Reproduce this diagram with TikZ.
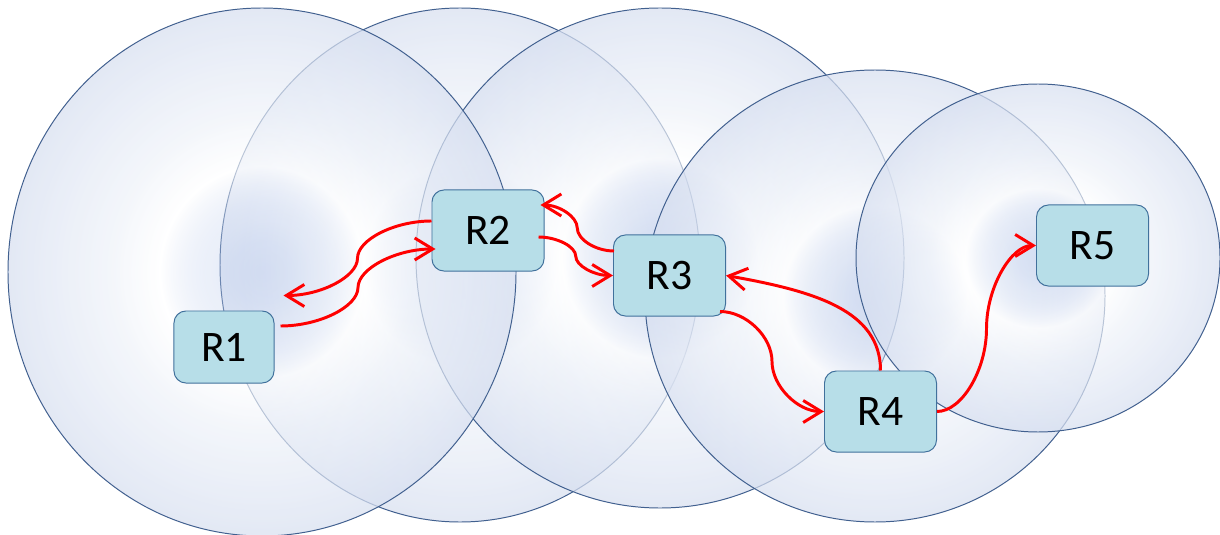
\documentclass[tikz,border=0pt]{standalone}
\usepackage{fontspec}
\usepackage{xcolor}
\usepackage{tikz}
\usetikzlibrary{arrows.meta,fadings,calc}
\newfontfamily\boxfont{Carlito}
\definecolor{cellcore}{HTML}{9CB3E4}
\definecolor{cellinner}{HTML}{B0C3EA}
\definecolor{cellring}{HTML}{FFFFFF}
\definecolor{cellouter}{HTML}{EEF2F9}
\definecolor{celledge}{HTML}{D8E0F1}
\definecolor{cellline}{HTML}{41608F}
\definecolor{boxfill}{HTML}{B7DEE8}
\definecolor{boxline}{HTML}{41719C}
\definecolor{flowred}{HTML}{FF0000}
\pgfdeclareradialshading{cellshade}{\pgfpointorigin}{%
  color(0bp)=(cellcore); color(3bp)=(cellinner); color(10bp)=(cellring);
  color(15bp)=(cellouter); color(25bp)=(celledge); color(50bp)=(celledge)}
\pgfdeclareradialshading{cellmask}{\pgfpointorigin}{%
  rgb(0bp)=(.3,.3,.3); rgb(5bp)=(.35,.35,.35); rgb(10bp)=(.65,.65,.65);
  rgb(25bp)=(.72,.72,.72); rgb(50bp)=(.72,.72,.72)}
\pgfdeclarefading{cellfade}{\pgfuseshading{cellmask}}
\tikzset{
  cell/.style={shading=cellshade, path fading=cellfade},
  rim/.style={draw=cellline, line width=0.7pt},
  router/.style={draw=boxline, fill=boxfill, line width=0.7pt, rounded corners=0.3cm,
    minimum width=2.8cm, minimum height=2.025cm, inner sep=0pt,
    font=\boxfont\fontsize{31}{37}\selectfont},
  flow/.style={draw=flowred, line width=2.1pt, -{Straight Barb[length=4.5mm, width=5.5mm]}},
  % curved connector: horizontal ends, vertical at half way
  sbend/.style={to path={let \p1=(\tikztostart), \p2=(\tikztotarget) in
    .. controls ({0.75*\x1+0.25*\x2},\y1) and ({0.5*\x1+0.5*\x2},{0.75*\y1+0.25*\y2})
    .. ({0.5*\x1+0.5*\x2},{0.5*\y1+0.5*\y2})
    .. controls ({0.5*\x1+0.5*\x2},{0.25*\y1+0.75*\y2}) and ({0.25*\x1+0.75*\x2},\y2)
    .. (\tikztotarget)}},
}

\begin{document}
\begin{tikzpicture}[x=0.025cm, y=0.025cm]
  \useasboundingbox (0,0) rectangle (1220,534);
  \fill[white] (0,0) rectangle (1220,534);

  % radio ranges
  \shade[cell] (460,269) ellipse [x radius=240, y radius=257];
  \draw[rim] (460,269) ellipse [x radius=240, y radius=257];
  \shade[cell] (660,276) ellipse [x radius=244, y radius=250];
  \draw[rim] (660,276) ellipse [x radius=244, y radius=250];
  \shade[cell] (262,262) ellipse [x radius=254, y radius=264];
  \draw[rim] (262,262) ellipse [x radius=254, y radius=264];
  \shade[cell] (875,238) ellipse [x radius=230, y radius=226];
  \draw[rim] (875,238) ellipse [x radius=230, y radius=226];
  \shade[cell] (1038,276) ellipse [x radius=182, y radius=174];
  \draw[rim] (1038,276) ellipse [x radius=182, y radius=174];

  \node[router, minimum width=2.5cm, minimum height=1.8cm] (R1) at (224,187) {R1};
  \node[router] (R2) at (488,303.5) {R2};
  \node[router] (R3) at (669.5,258.5) {R3};
  \node[router] (R4) at (880.5,122.5) {R4};
  \node[router] (R5) at (1092.5,288.5) {R5};
  \coordinate (R1in) at ([shift={(9,15)}]R1.north east);

  \draw[flow] ([shift={(6,21)}]R1.east) to[sbend] ([shift={(4,-18.5)}]R2.west);
  \draw[flow] ([shift={(0,9.5)}]R2.west) to[sbend] (R1in);
  \draw[flow] ([shift={(1,24.5)}]R3.west) to[sbend] ([shift={(-4,25.5)}]R2.east);
  \draw[flow] ([shift={(-6,-6.5)}]R2.east) to[sbend] (R3.west);
  \draw[flow] (R4.north) to[out=90, in=-10, out distance=1.5cm, in distance=2.25cm] (R3.east);
  \draw[flow] ([shift={(-6,5)}]R3.south east) to[sbend] (R4.west);
  \draw[flow] (R4.east) to[sbend] (R5.west);
\end{tikzpicture}
\end{document}
